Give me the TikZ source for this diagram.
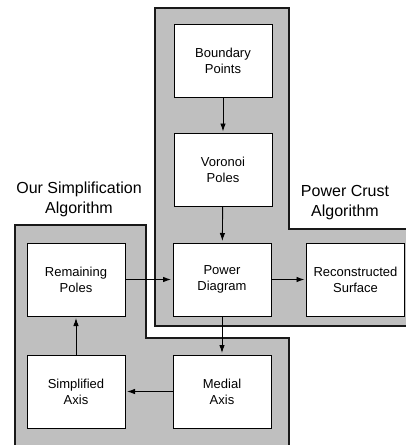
\documentclass[tikz,border=0pt]{standalone}
\usepackage{fontspec}
\setmainfont{Liberation Sans}
\usepackage{tikz}
\usetikzlibrary{calc, arrows.meta, positioning}

\begin{document}
\begin{tikzpicture}[x=1pt, y=-1pt, auto, >={Latex[length=8pt, width=5.5pt]}, font=\fontsize{13}{16}\selectfont]
	\tikzstyle{stage} = [draw=black, fill=white, line width=1pt, rectangle, align=center, minimum width=98pt, minimum height=73pt, inner sep=0pt]
	\tikzstyle{region} = [draw=black!90, fill=black!25, line width=1.6pt]
	\tikzstyle{caption} = [align=center, font=\fontsize{16}{20}\selectfont]
	
	\useasboundingbox (0, 0) rectangle (406, 445);
	\clip (0, 0) rectangle (406, 445);
	
	% the two algorithm regions
	\draw[region] (155, 8) -- (289, 8) -- (289, 229) -- (412, 229) -- (412, 326) -- (155, 326) -- cycle;
	\draw[region] (15, 225) -- (146, 225) -- (146, 338) -- (289, 338) -- (289, 452) -- (15, 452) -- cycle;
	
	\node[caption]	at (79, 199)	(simp)	{Our Simplification\\Algorithm};
	\node[caption]	at (345, 203)	(crust)	{Power Crust\\Algorithm};
	
	\node[stage]	at (223, 60.5)	(bp)	{Boundary\\Points};
	\node[stage]	at (223, 170)	(vp)	{Voronoi\\Poles};
	\node[stage]	at (222, 279.5)	(pd)	{Power\\Diagram};
	\node[stage]	at (76, 279.5)	(rp)	{Remaining\\Poles};
	\node[stage]	at (355.5, 279.5)	(rs)	{Reconstructed\\Surface};
	\node[stage]	at (222, 391.5)	(ma)	{Medial\\Axis};
	\node[stage]	at (76, 391.5)	(sa)	{Simplified\\Axis};
	
	\path[draw][->, line width=0.9pt, shorten >=1.5pt] 
	(bp) edge (vp)
	(vp) edge (pd)
	(rp) edge (pd)
	(pd) edge (rs)
	(pd) edge (ma)
	(ma) edge (sa)
	(sa) edge (rp);
	
\end{tikzpicture}
\end{document}
